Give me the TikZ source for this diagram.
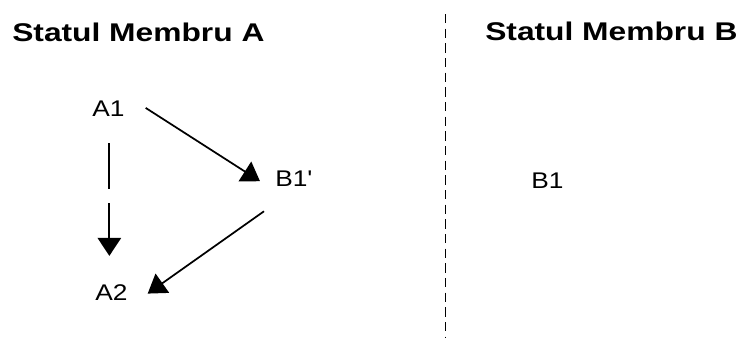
\documentclass[tikz,border=0pt]{standalone}
\usepackage{fontspec}
\setmainfont{Liberation Sans}[FakeStretch=1.24]
\newfontfamily\lblfont{Liberation Sans}[FakeStretch=1.16]
\usetikzlibrary{arrows.meta,calc}
\begin{document}
\begin{tikzpicture}[x=0.75pt,y=-0.75pt,
  title/.style={inner sep=0pt,anchor=base west,font=\fontsize{19.2pt}{22pt}\selectfont\bfseries},
  lbl/.style={inner sep=0pt,anchor=base west,font=\lblfont\fontsize{17pt}{20pt}\selectfont},
  conn/.style={line width=1.3pt,-{Triangle[length=13.5pt,width=17.5pt]}},
  divider/.style={line width=1.3pt,dash pattern=on 6.9pt off 4.1pt}]
\useasboundingbox (0,0) rectangle (740,337);
\node[title] (tA) at (12,41.5) {Statul Membru A};
\node[title] (tB) at (485,40.5) {Statul Membru B};
\node[lbl] (A1) at (92,116.7) {A1};
\node[lbl] (B1p) at (275,186.5) {B1\textquotesingle};
\node[lbl] (A2) at (95,300) {A2};
\node[lbl] (B1) at (531,188.5) {B1};
\coordinate (dtop) at (445.5,14);
\coordinate (dbot) at (445.5,337);
\draw[divider] (dtop) -- (dbot);
\draw[conn] ($(A1.east)+(21,-1)$) -- ($(B1p.west)+(-15,2.5)$);
\draw[conn,dash pattern=on 34.5pt off 10.5pt on 200pt off 0pt] ($(A1.south)+(1,26.3)$) -- ($(A1.south |- A2.north)+(1,-28)$);
\draw[conn] ($(B1p.south)+(-29.5,24.5)$) -- ($(A2.east)+(20,1.5)$);
\end{tikzpicture}
\end{document}
